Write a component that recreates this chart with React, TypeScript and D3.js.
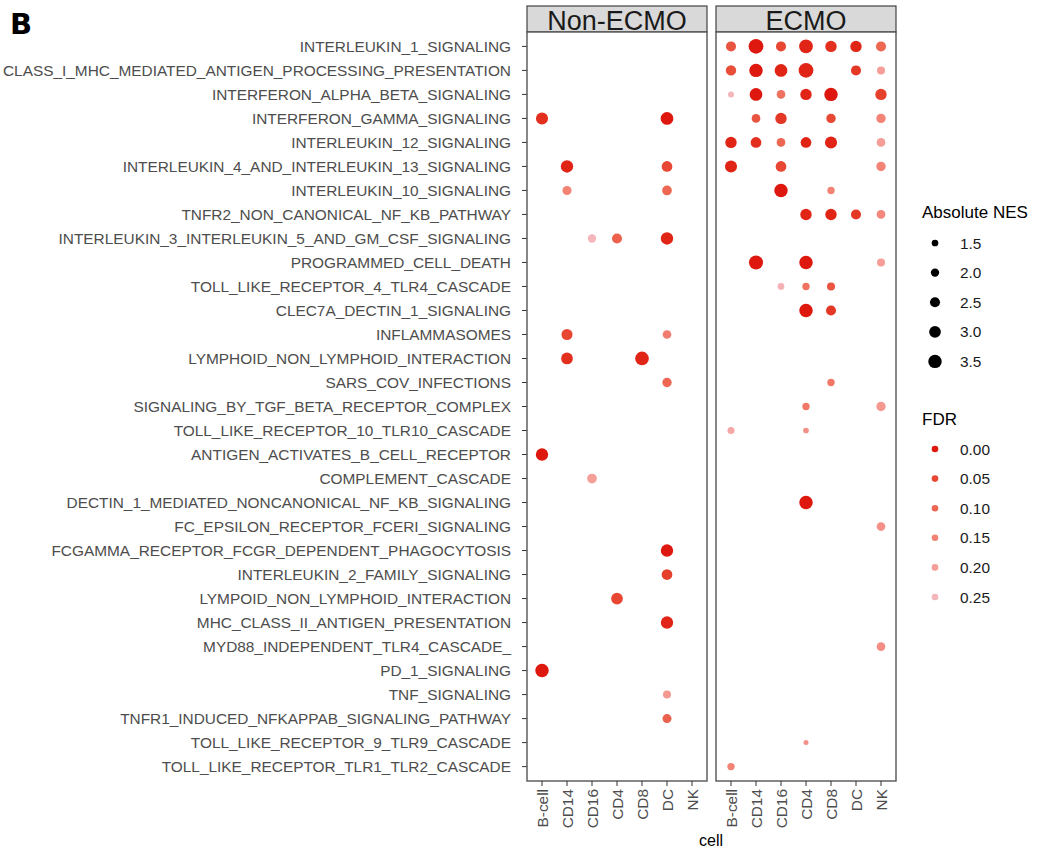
import React from "react";
import * as d3 from "d3";

const pathways = [
  "INTERLEUKIN_1_SIGNALING",
  "CLASS_I_MHC_MEDIATED_ANTIGEN_PROCESSING_PRESENTATION",
  "INTERFERON_ALPHA_BETA_SIGNALING",
  "INTERFERON_GAMMA_SIGNALING",
  "INTERLEUKIN_12_SIGNALING",
  "INTERLEUKIN_4_AND_INTERLEUKIN_13_SIGNALING",
  "INTERLEUKIN_10_SIGNALING",
  "TNFR2_NON_CANONICAL_NF_KB_PATHWAY",
  "INTERLEUKIN_3_INTERLEUKIN_5_AND_GM_CSF_SIGNALING",
  "PROGRAMMED_CELL_DEATH",
  "TOLL_LIKE_RECEPTOR_4_TLR4_CASCADE",
  "CLEC7A_DECTIN_1_SIGNALING",
  "INFLAMMASOMES",
  "LYMPHOID_NON_LYMPHOID_INTERACTION",
  "SARS_COV_INFECTIONS",
  "SIGNALING_BY_TGF_BETA_RECEPTOR_COMPLEX",
  "TOLL_LIKE_RECEPTOR_10_TLR10_CASCADE",
  "ANTIGEN_ACTIVATES_B_CELL_RECEPTOR",
  "COMPLEMENT_CASCADE",
  "DECTIN_1_MEDIATED_NONCANONICAL_NF_KB_SIGNALING",
  "FC_EPSILON_RECEPTOR_FCERI_SIGNALING",
  "FCGAMMA_RECEPTOR_FCGR_DEPENDENT_PHAGOCYTOSIS",
  "INTERLEUKIN_2_FAMILY_SIGNALING",
  "LYMPOID_NON_LYMPHOID_INTERACTION",
  "MHC_CLASS_II_ANTIGEN_PRESENTATION",
  "MYD88_INDEPENDENT_TLR4_CASCADE_",
  "PD_1_SIGNALING",
  "TNF_SIGNALING",
  "TNFR1_INDUCED_NFKAPPAB_SIGNALING_PATHWAY",
  "TOLL_LIKE_RECEPTOR_9_TLR9_CASCADE",
  "TOLL_LIKE_RECEPTOR_TLR1_TLR2_CASCADE",
];

const cells = ["B-cell", "CD14", "CD16", "CD4", "CD8", "DC", "NK"];
const groups = ["Non-ECMO", "ECMO"];

const nesTicks = [1.5, 2.0, 2.5, 3.0, 3.5];
const fdrTicks = [0.0, 0.05, 0.1, 0.15, 0.2, 0.25];

// [pathway, cell, absolute NES, FDR]
type Pt = [string, string, number, number];

const nonEcmoPoints: Pt[] = [
  ["INTERFERON_GAMMA_SIGNALING", "B-cell", 3.1, 0.02],
  ["INTERFERON_GAMMA_SIGNALING", "DC", 3.3, 0.0],
  ["INTERLEUKIN_4_AND_INTERLEUKIN_13_SIGNALING", "CD14", 3.2, 0.01],
  ["INTERLEUKIN_4_AND_INTERLEUKIN_13_SIGNALING", "DC", 2.7, 0.05],
  ["INTERLEUKIN_10_SIGNALING", "CD14", 2.2, 0.15],
  ["INTERLEUKIN_10_SIGNALING", "DC", 2.4, 0.1],
  ["INTERLEUKIN_3_INTERLEUKIN_5_AND_GM_CSF_SIGNALING", "CD16", 2.0, 0.25],
  ["INTERLEUKIN_3_INTERLEUKIN_5_AND_GM_CSF_SIGNALING", "CD4", 2.5, 0.09],
  ["INTERLEUKIN_3_INTERLEUKIN_5_AND_GM_CSF_SIGNALING", "DC", 3.2, 0.01],
  ["INFLAMMASOMES", "CD14", 2.8, 0.05],
  ["INFLAMMASOMES", "DC", 2.1, 0.14],
  ["LYMPHOID_NON_LYMPHOID_INTERACTION", "CD14", 3.0, 0.02],
  ["LYMPHOID_NON_LYMPHOID_INTERACTION", "CD8", 3.6, 0.01],
  ["SARS_COV_INFECTIONS", "DC", 2.3, 0.1],
  ["ANTIGEN_ACTIVATES_B_CELL_RECEPTOR", "B-cell", 3.2, 0.0],
  ["COMPLEMENT_CASCADE", "CD16", 2.4, 0.2],
  ["FCGAMMA_RECEPTOR_FCGR_DEPENDENT_PHAGOCYTOSIS", "DC", 3.2, 0.0],
  ["INTERLEUKIN_2_FAMILY_SIGNALING", "DC", 2.7, 0.04],
  ["LYMPOID_NON_LYMPHOID_INTERACTION", "CD4", 3.0, 0.05],
  ["MHC_CLASS_II_ANTIGEN_PRESENTATION", "DC", 3.2, 0.01],
  ["PD_1_SIGNALING", "B-cell", 3.5, 0.0],
  ["TNF_SIGNALING", "DC", 1.9, 0.19],
  ["TNFR1_INDUCED_NFKAPPAB_SIGNALING_PATHWAY", "DC", 2.2, 0.09],
];

const ecmoPoints: Pt[] = [
  ["INTERLEUKIN_1_SIGNALING", "B-cell", 2.5, 0.07],
  ["INTERLEUKIN_1_SIGNALING", "CD14", 3.9, 0.0],
  ["INTERLEUKIN_1_SIGNALING", "CD16", 2.5, 0.05],
  ["INTERLEUKIN_1_SIGNALING", "CD4", 3.6, 0.01],
  ["INTERLEUKIN_1_SIGNALING", "CD8", 2.9, 0.02],
  ["INTERLEUKIN_1_SIGNALING", "DC", 2.9, 0.01],
  ["INTERLEUKIN_1_SIGNALING", "NK", 2.5, 0.1],
  ["CLASS_I_MHC_MEDIATED_ANTIGEN_PROCESSING_PRESENTATION", "B-cell", 2.6, 0.06],
  ["CLASS_I_MHC_MEDIATED_ANTIGEN_PROCESSING_PRESENTATION", "CD14", 3.5, 0.0],
  ["CLASS_I_MHC_MEDIATED_ANTIGEN_PROCESSING_PRESENTATION", "CD16", 3.3, 0.01],
  ["CLASS_I_MHC_MEDIATED_ANTIGEN_PROCESSING_PRESENTATION", "CD4", 3.9, 0.01],
  ["CLASS_I_MHC_MEDIATED_ANTIGEN_PROCESSING_PRESENTATION", "DC", 2.5, 0.03],
  ["CLASS_I_MHC_MEDIATED_ANTIGEN_PROCESSING_PRESENTATION", "NK", 1.9, 0.2],
  ["INTERFERON_ALPHA_BETA_SIGNALING", "B-cell", 1.3, 0.25],
  ["INTERFERON_ALPHA_BETA_SIGNALING", "CD14", 3.3, 0.0],
  ["INTERFERON_ALPHA_BETA_SIGNALING", "CD16", 2.1, 0.12],
  ["INTERFERON_ALPHA_BETA_SIGNALING", "CD4", 2.9, 0.01],
  ["INTERFERON_ALPHA_BETA_SIGNALING", "CD8", 3.5, 0.0],
  ["INTERFERON_ALPHA_BETA_SIGNALING", "NK", 2.9, 0.04],
  ["INTERFERON_GAMMA_SIGNALING", "CD14", 2.1, 0.07],
  ["INTERFERON_GAMMA_SIGNALING", "CD16", 2.9, 0.03],
  ["INTERFERON_GAMMA_SIGNALING", "CD8", 2.3, 0.05],
  ["INTERFERON_GAMMA_SIGNALING", "NK", 2.3, 0.15],
  ["INTERLEUKIN_12_SIGNALING", "B-cell", 2.9, 0.01],
  ["INTERLEUKIN_12_SIGNALING", "CD14", 2.7, 0.02],
  ["INTERLEUKIN_12_SIGNALING", "CD16", 2.1, 0.1],
  ["INTERLEUKIN_12_SIGNALING", "CD4", 2.7, 0.01],
  ["INTERLEUKIN_12_SIGNALING", "CD8", 3.1, 0.01],
  ["INTERLEUKIN_12_SIGNALING", "NK", 2.1, 0.2],
  ["INTERLEUKIN_4_AND_INTERLEUKIN_13_SIGNALING", "B-cell", 3.1, 0.01],
  ["INTERLEUKIN_4_AND_INTERLEUKIN_13_SIGNALING", "CD16", 2.7, 0.05],
  ["INTERLEUKIN_4_AND_INTERLEUKIN_13_SIGNALING", "NK", 2.3, 0.15],
  ["INTERLEUKIN_10_SIGNALING", "CD16", 3.5, 0.0],
  ["INTERLEUKIN_10_SIGNALING", "CD8", 1.7, 0.15],
  ["TNFR2_NON_CANONICAL_NF_KB_PATHWAY", "CD4", 2.9, 0.01],
  ["TNFR2_NON_CANONICAL_NF_KB_PATHWAY", "CD8", 2.9, 0.01],
  ["TNFR2_NON_CANONICAL_NF_KB_PATHWAY", "DC", 2.5, 0.03],
  ["TNFR2_NON_CANONICAL_NF_KB_PATHWAY", "NK", 2.1, 0.16],
  ["PROGRAMMED_CELL_DEATH", "CD14", 3.7, 0.0],
  ["PROGRAMMED_CELL_DEATH", "CD4", 3.5, 0.0],
  ["PROGRAMMED_CELL_DEATH", "NK", 1.9, 0.2],
  ["TOLL_LIKE_RECEPTOR_4_TLR4_CASCADE", "CD16", 1.5, 0.24],
  ["TOLL_LIKE_RECEPTOR_4_TLR4_CASCADE", "CD4", 1.7, 0.12],
  ["TOLL_LIKE_RECEPTOR_4_TLR4_CASCADE", "CD8", 1.9, 0.07],
  ["CLEC7A_DECTIN_1_SIGNALING", "CD4", 3.5, 0.0],
  ["CLEC7A_DECTIN_1_SIGNALING", "CD8", 2.5, 0.03],
  ["SARS_COV_INFECTIONS", "CD8", 1.7, 0.13],
  ["SIGNALING_BY_TGF_BETA_RECEPTOR_COMPLEX", "CD4", 1.7, 0.13],
  ["SIGNALING_BY_TGF_BETA_RECEPTOR_COMPLEX", "NK", 2.3, 0.19],
  ["TOLL_LIKE_RECEPTOR_10_TLR10_CASCADE", "B-cell", 1.6, 0.22],
  ["TOLL_LIKE_RECEPTOR_10_TLR10_CASCADE", "CD4", 1.2, 0.18],
  ["DECTIN_1_MEDIATED_NONCANONICAL_NF_KB_SIGNALING", "CD4", 3.5, 0.0],
  ["FC_EPSILON_RECEPTOR_FCERI_SIGNALING", "NK", 2.1, 0.18],
  ["MYD88_INDEPENDENT_TLR4_CASCADE_", "NK", 2.1, 0.17],
  ["TOLL_LIKE_RECEPTOR_9_TLR9_CASCADE", "CD4", 1.0, 0.18],
  ["TOLL_LIKE_RECEPTOR_TLR1_TLR2_CASCADE", "B-cell", 1.7, 0.15],
];

const groupPoints: Pt[][] = [nonEcmoPoints, ecmoPoints];

const W = 1045;
const H = 852;
const panelTop = 32;
const panelBottom = 781;
const stripTop = 6;
const panelXs: [number, number][] = [
  [527, 707],
  [716, 896],
];
const font = "'Liberation Sans', Arial, sans-serif";

export default function App() {
  const y = d3
    .scalePoint<string>()
    .domain(pathways)
    .range([panelTop, panelBottom])
    .padding(0.6);
  const xScales = panelXs.map(([a, b]) =>
    d3.scalePoint<string>().domain(cells).range([a, b]).padding(0.6)
  );
  const r = d3.scaleLinear().domain([1.5, 3.5]).range([3.35, 6.7]);
  const color = d3
    .scaleLinear<string>()
    .domain([0, 0.25])
    .range(["#DE170F", "#F5B6BB"])
    .interpolate(d3.interpolateLab)
    .clamp(true);

  const legX = 922;
  const nesY0 = 243;
  const fdrY0 = 449;
  const step = 29.6;

  return (
    <svg
      width={W}
      height={H}
      style={{ position: "absolute", left: 0, top: 0, background: "#fff" }}
      fontFamily={font}
    >
      <rect x={0} y={0} width={W} height={H} fill="#fff" />
      <text x={10} y={34} fontSize={29} fontWeight="bold" fontFamily="'DejaVu Sans', sans-serif" fill="#000">
        B
      </text>

      {/* y axis labels */}
      {pathways.map((p) => (
        <g key={p}>
          <text
            x={511}
            y={y(p)!}
            dy="0.36em"
            textAnchor="end"
            fontSize={15.4}
            fill="#4D4D4D"
          >
            {p}
          </text>
          <line x1={522} x2={527} y1={y(p)!} y2={y(p)!} stroke="#333" strokeWidth={1} />
        </g>
      ))}

      {groups.map((g, gi) => {
        const [a, b] = panelXs[gi];
        const xs = xScales[gi];
        return (
          <g key={g}>
            <rect x={a} y={stripTop} width={b - a} height={panelTop - stripTop} fill="#D9D9D9" stroke="#333" strokeWidth={1.1} />
            <text x={(a + b) / 2} y={29.5} textAnchor="middle" fontSize={27} fill="#1A1A1A">
              {g}
            </text>
            <rect x={a} y={panelTop} width={b - a} height={panelBottom - panelTop} fill="#fff" stroke="#555" strokeWidth={1.4} />
            {groupPoints[gi].map(([p, c, nes, fdr], i) => (
              <circle key={i} cx={xs(c)!} cy={y(p)!} r={r(nes)} fill={color(fdr)} />
            ))}
            {cells.map((c) => (
              <g key={c}>
                <line x1={xs(c)!} x2={xs(c)!} y1={panelBottom} y2={panelBottom + 5} stroke="#333" />
                <text
                  transform={`translate(${xs(c)!},${panelBottom + 8}) rotate(-90)`}
                  dy="0.36em"
                  textAnchor="end"
                  fontSize={15.4}
                  fill="#4D4D4D"
                >
                  {c}
                </text>
              </g>
            ))}
          </g>
        );
      })}

      <text x={711} y={846} textAnchor="middle" fontSize={16} fill="#000">
        cell
      </text>

      {/* size legend */}
      <text x={legX} y={218} fontSize={17} fill="#000">
        Absolute NES
      </text>
      {nesTicks.map((v, i) => (
        <g key={v}>
          <circle cx={935} cy={nesY0 + i * step} r={r(v)} fill="#000" />
          <text x={960} y={nesY0 + i * step} dy="0.36em" fontSize={15.4} fill="#1A1A1A">
            {v.toFixed(1)}
          </text>
        </g>
      ))}

      {/* color legend */}
      <text x={legX} y={425} fontSize={17} fill="#000">
        FDR
      </text>
      {fdrTicks.map((v, i) => (
        <g key={v}>
          <circle cx={935} cy={fdrY0 + i * step} r={3.3} fill={color(v)} />
          <text x={960} y={fdrY0 + i * step} dy="0.36em" fontSize={15.4} fill="#1A1A1A">
            {v.toFixed(2)}
          </text>
        </g>
      ))}
    </svg>
  );
}
